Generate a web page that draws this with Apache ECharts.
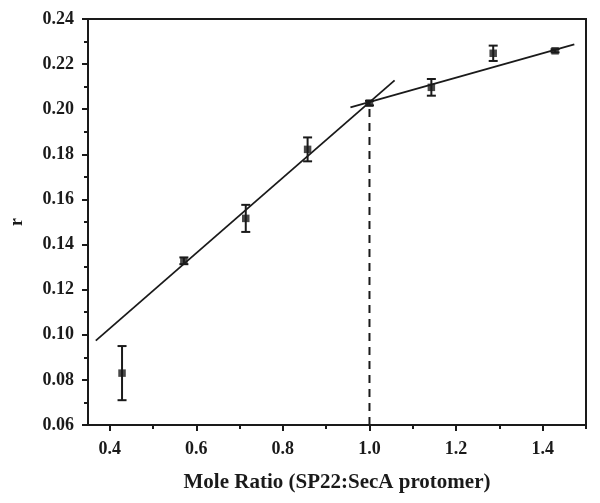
<!DOCTYPE html>
<html>
<head>
<meta charset="utf-8">
<script src="https://cdn.jsdelivr.net/npm/echarts@6/dist/echarts.min.js"></script>
<style>html,body{margin:0;padding:0;background:#fff}#c{width:600px;height:503px}</style>
</head>
<body>
<div id="c"></div>
<script>
// Data
var moleRatio = [0.4286, 0.5714, 0.7143, 0.8571, 1.0, 1.1429, 1.2857, 1.4286];
var rValues   = [0.0830, 0.1328, 0.1516, 0.1822, 0.2027, 0.2097, 0.2248, 0.2259];
var rErrors   = [0.0120, 0.0015, 0.0060, 0.0053, 0.0010, 0.0037, 0.0034, 0.0007];
var fitLine1X = [0.368, 1.058];
var fitLine1Y = [0.0974, 0.2128];
var fitLine2X = [0.956, 1.473];
var fitLine2Y = [0.2008, 0.2287];
var breakX    = [1.0, 1.0];
var breakY    = [0.06, 0.2027];
var xMajorTicks = [0.4, 0.6, 0.8, 1.0, 1.2, 1.4];
var xMinorTicks = [0.5, 0.7, 0.9, 1.1, 1.3, 1.5];

var FONT = '"Liberation Serif", "DejaVu Serif", serif';
var INK = '#1a1a1a';

function pairs(xs, ys) { return xs.map(function (x, i) { return [x, ys[i]]; }); }

var chart = echarts.init(document.getElementById('c'));
chart.setOption({
  animation: false,
  backgroundColor: '#fff',
  grid: { left: 87, right: 14, top: 19, bottom: 78, show: true, borderColor: INK, borderWidth: 2 },
  xAxis: [{
    type: 'value', min: 0.35, max: 1.5,
    name: 'Mole Ratio (SP22:SecA protomer)', nameLocation: 'middle', nameGap: 47,
    nameTextStyle: { fontFamily: FONT, fontWeight: 'bold', fontSize: 21, color: INK },
    axisLine: { show: true, onZero: false, lineStyle: { color: INK, width: 2 } },
    axisTick: { show: true, inside: false, length: 6, customValues: xMajorTicks, lineStyle: { color: INK, width: 2 } },
    axisLabel: { customValues: xMajorTicks, margin: 15, fontFamily: FONT, fontWeight: 'bold', fontSize: 18, color: INK,
      formatter: function (v) { return v.toFixed(1); } },
    splitLine: { show: false }
  }, {
    type: 'value', min: 0.35, max: 1.5, position: 'bottom',
    axisLine: { show: false },
    axisTick: { show: true, inside: false, length: 4, customValues: xMinorTicks, lineStyle: { color: INK, width: 2 } },
    axisLabel: { show: false },
    splitLine: { show: false }
  }],
  yAxis: {
    type: 'value', min: 0.06, max: 0.24, interval: 0.02,
    name: 'r', nameLocation: 'middle', nameGap: 62, nameRotate: 90,
    nameTextStyle: { fontFamily: FONT, fontWeight: 'bold', fontSize: 18, color: INK },
    axisLine: { show: true, onZero: false, lineStyle: { color: INK, width: 2 } },
    axisTick: { show: true, inside: false, length: 6, lineStyle: { color: INK, width: 2 } },
    minorTick: { show: true, splitNumber: 2, length: 4, lineStyle: { color: INK, width: 2 } },
    axisLabel: { margin: 14, fontFamily: FONT, fontWeight: 'bold', fontSize: 18, color: INK,
      formatter: function (v) { return v.toFixed(2); } },
    splitLine: { show: false }
  },
  series: [
    {
      type: 'line', data: pairs(fitLine1X, fitLine1Y), symbol: 'none',
      lineStyle: { color: INK, width: 1.8 }, z: 2
    },
    {
      type: 'line', data: pairs(fitLine2X, fitLine2Y), symbol: 'none',
      lineStyle: { color: INK, width: 1.8 }, z: 2
    },
    {
      type: 'line', data: pairs(breakX, breakY), symbol: 'none',
      lineStyle: { color: INK, width: 2, type: [8, 6] }, z: 2
    },
    {
      type: 'custom',
      data: moleRatio.map(function (x, i) { return [x, rValues[i] - rErrors[i], rValues[i] + rErrors[i]]; }),
      renderItem: function (params, api) {
        var lo = api.coord([api.value(0), api.value(1)]);
        var hi = api.coord([api.value(0), api.value(2)]);
        var w = 4.5;
        var st = { stroke: INK, lineWidth: 2 };
        return {
          type: 'group',
          children: [
            { type: 'line', shape: { x1: hi[0], y1: hi[1], x2: lo[0], y2: lo[1] }, style: st },
            { type: 'line', shape: { x1: hi[0] - w, y1: hi[1], x2: hi[0] + w, y2: hi[1] }, style: st },
            { type: 'line', shape: { x1: lo[0] - w, y1: lo[1], x2: lo[0] + w, y2: lo[1] }, style: st }
          ]
        };
      },
      encode: { x: 0, y: [1, 2] }, z: 3
    },
    {
      type: 'scatter', data: pairs(moleRatio, rValues), symbol: 'rect', symbolSize: 7.5,
      itemStyle: { color: INK }, z: 4
    }
  ]
});
</script>
</body>
</html>
